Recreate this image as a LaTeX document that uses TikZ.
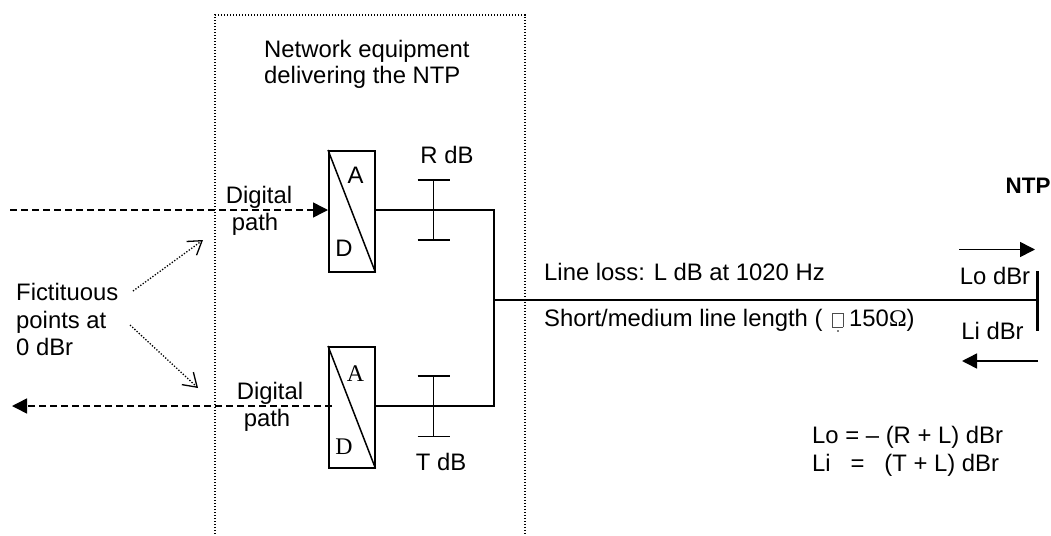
\documentclass[tikz,border=0pt]{standalone}
\usepackage{fontspec}
\setmainfont{Liberation Sans}
\newfontfamily\serifface{Liberation Serif}
\usetikzlibrary{arrows.meta}
\tikzset{
  x=1pt,y=-1pt,
  lbl/.style={inner sep=0pt,align=left,font=\fontsize{23.85}{27}\selectfont},
  ser/.style={inner sep=0pt,font=\fontsize{23.85}{27}\serifface},
  conv/.style={draw,line width=1.5pt,minimum width=46pt,minimum height=121pt,inner sep=0pt},
  wire/.style={line width=1.5pt},
  dots/.style={line width=1.3pt,dash pattern=on 1.3pt off 1.7pt},
  dashline/.style={line width=1.5pt,dash pattern=on 7pt off 4pt},
  solidhead/.style={-{Triangle[length=15pt,width=15pt]}},
  openhead/.style={dots,-{Straight Barb[length=13pt,width=17pt,line width=1.3pt]}},
}
\newcommand{\missingglyph}{\hspace{3pt}{\fboxrule=0.5pt\fboxsep=0pt\color{black!70}\raisebox{-1pt}{\fbox{\rule{0pt}{14pt}\hspace{10pt}}}}\hspace{6pt}}
\begin{document}
\begin{tikzpicture}[line join=miter]
\useasboundingbox (0,0) rectangle (1051,535);
% enclosure
\coordinate (encA) at (215,537);
\coordinate (encB) at (215,15);
\coordinate (encC) at (525,15);
\coordinate (encD) at (525,537);
\draw[dots] (encA) -- (encB) -- (encC) -- (encD);
\node[lbl,anchor=north west,font=\fontsize{23.85}{26}\selectfont] (title) at (264,40) {Network equipment\\delivering the NTP};
% converters
\node[conv,anchor=north west] (adtop) at (328,150) {};
\node[conv,anchor=north west] (adbot) at (328,346) {};
\draw[wire] (adtop.north west) -- (adtop.south east);
\draw[wire] (adbot.north west) -- (adbot.south east);
\node[lbl] (atop) at (355.5,175.5) {A};
\node[lbl] (dtop) at (344,248.5) {D};
\node[ser] (abot) at (355.5,373.5) {A};
\node[ser] (dbot) at (344,447) {D};
% wires
\coordinate (tapT) at (433.5,210);
\coordinate (tapB) at (433.5,406);
\coordinate (jT) at (494,210);
\coordinate (jB) at (494,406);
\coordinate (jM) at (494,300);
\coordinate (npt) at (1037,300);
\draw[wire] (adtop.east |- tapT) -- (jT) -- (jB) -- (adbot.east |- tapB);
\draw[wire] (jM) -- (npt);
% attenuator bars
\coordinate (rA) at (433.5,180);\coordinate (rB) at (433.5,240);
\coordinate (tA) at (433.5,376);\coordinate (tB) at (433.5,436.5);
\draw[wire] (rA) -- (rB);
\draw[wire] (tA) -- (tB);
\draw[wire] ([xshift=-16pt]rA.center) -- ([xshift=16pt]rA.center);
\draw[wire] ([xshift=-16pt]rB.center) -- ([xshift=16pt]rB.center);
\draw[wire] ([xshift=-16pt]tA.center) -- ([xshift=16pt]tA.center);
\draw[wire] ([xshift=-16pt]tB.center) -- ([xshift=16pt]tB.center);
\node[lbl,anchor=center] (rdb) at (447,155) {R dB};
\node[lbl,anchor=center] (tdb) at (441,462) {T dB};
% digital paths
\coordinate (inL) at (10,210);
\coordinate (outR) at (332,406);
\coordinate (outL) at (12,406);
\draw[dashline,solidhead] (inL) -- (adtop.west |- inL);
\draw[dashline,solidhead] (outR) -- (outL);
\node[lbl,anchor=center] (dp1) at (259,197) {Digital};
\node[lbl,anchor=center] (dp2) at (255,224) {path};
\node[lbl,anchor=center] (dp3) at (270,393) {Digital};
\node[lbl,anchor=center] (dp4) at (267,420) {path};
% fictitious points
\node[lbl,anchor=north west,font=\fontsize{23.85}{27.6}\selectfont] (fic) at (16,283) {Fictituous\\points at\\0 dBr};
\coordinate (f1a) at (133,291);\coordinate (f1b) at (203,240);
\coordinate (f2a) at (130,325);\coordinate (f2b) at (198,388);
\draw[openhead] (f1a) -- (f1b);
\draw[openhead] (f2a) -- (f2b);
% line labels
\node[lbl,anchor=west] (loss) at (544,271.5) {Line loss: L dB at 1020 Hz};
\node[lbl,anchor=west] (short) at (544,320) {Short/medium line length (\ \missingglyph 150{\serifface Ω})};
\node[circle,fill=black,inner sep=0pt,minimum size=1.6pt] (tick) at (838,331) {};
% NTP end
\node[lbl,anchor=west,font=\fontsize{22.4}{27}\selectfont\bfseries] (ntp) at (1005.5,186) {NTP};
\coordinate (barT) at (1037,271);\coordinate (barB) at (1037,331);
\draw[line width=3pt] (barT) -- (barB);
\coordinate (o1) at (959,249.5);\coordinate (o2) at (1035,249.5);
\coordinate (i1) at (1038,361);\coordinate (i2) at (962,361);
\draw[wire,solidhead] (o1) -- (o2);
\draw[wire,solidhead] (i1) -- (i2);
\node[lbl,anchor=center] (lo) at (995,276) {Lo dBr};
\node[lbl,anchor=center] (li) at (992.5,331) {Li dBr};
\node[lbl,anchor=north west] (eq1) at (812,426) {Lo = -- (R + L) dBr};
\node[lbl,anchor=north west] (eq2) at (812,454) {Li \ \ = \ \ (T + L) dBr};
\end{tikzpicture}
\end{document}
